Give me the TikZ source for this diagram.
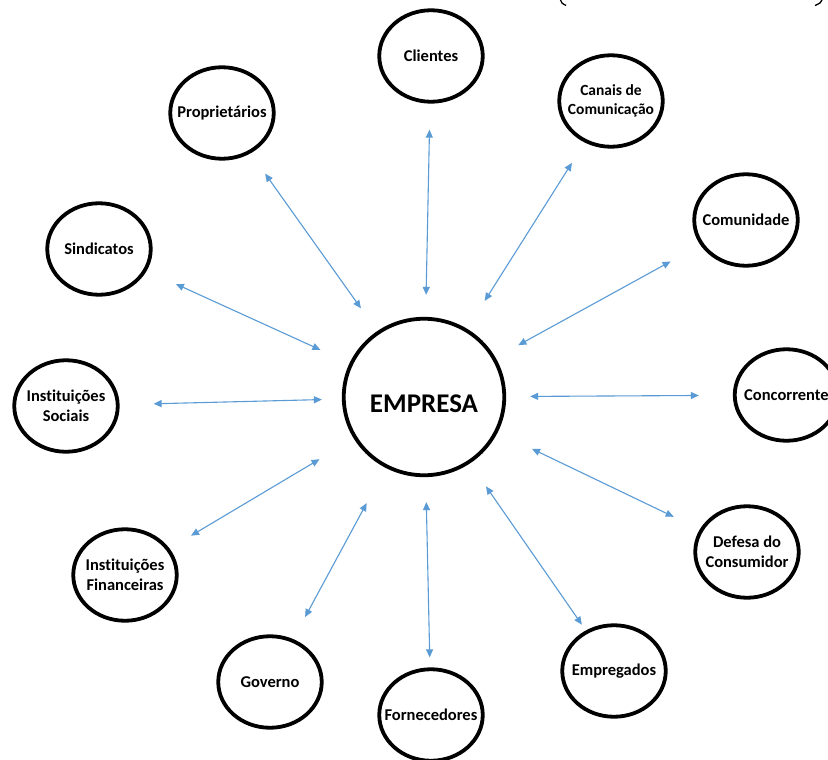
\documentclass[tikz,border=0pt]{standalone}
\usepackage{fontspec}
\usetikzlibrary{shapes.geometric, arrows.meta}
\newfontfamily\partyfont{Carlito}[Ligatures=NoCommon]
\definecolor{linkblue}{HTML}{5B9BD5}
\tikzset{party/.style={ellipse, draw=black, line width=3.8pt, minimum width=103.5pt, minimum height=91.5pt, inner xsep=-12pt, inner ysep=-12pt, align=center, font=\partyfont\bfseries\fontsize{16.5}{20}\selectfont},
link/.style={draw=linkblue, line width=1.1pt, {Triangle[length=8pt,width=7pt]}-{Triangle[length=8pt,width=7pt]}},}

\begin{document}
\begin{tikzpicture}[x=1pt, y=1pt]
\fill[white] (0,0) rectangle (828,-760);
\clip (0,0) rectangle (828,-760);
% the firm in the middle
\node [party, minimum width=160.5pt, minimum height=156.5pt, text height=31pt, font=\partyfont\bfseries\fontsize{27}{32}\selectfont] (empresa) at (424,-397) {EMPRESA};
% stakeholders around it
\node [party] (clientes) at (431,-56) {Clientes};
\node [party, font=\partyfont\bfseries\fontsize{15.5}{18.5}\selectfont] (canais) at (611,-101) {Canais de\\Comunica\c{c}\~ao};
\node [party] (proprietarios) at (222,-113) {Propriet\'arios};
\node [party] (comunidade) at (746,-220) {Comunidade};
\node [party] (sindicatos) at (99,-249) {Sindicatos};
\node [party] (sociais) at (66,-406) {Institui\c{c}\~oes\\Sociais};
\node [party] (concorrente) at (786.5,-395) {Concorrente};
\node [party] (defesa) at (747,-552) {Defesa do\\Consumidor};
\node [party] (financeiras) at (125,-575) {Institui\c{c}\~oes\\Financeiras};
\node [party] (empregados) at (614,-671) {Empregados};
\node [party] (governo) at (270,-682) {Governo};
\node [party] (fornecedores) at (431,-715) {Fornecedores};
% two-way relations
\draw [link, shorten <=22pt, shorten >=26pt] (empresa) -- (clientes);
\draw [link, shorten <=33pt, shorten >=24pt] (empresa) -- (canais);
\draw [link, shorten <=28pt, shorten >=25pt] (empresa) -- (proprietarios);
\draw [link, shorten <=26pt, shorten >=34pt] (empresa) -- (comunidade);
\draw [link, shorten <=32pt, shorten >=32pt] (empresa) -- (sindicatos);
\draw [link, shorten <=20pt, shorten >=34pt] (empresa) -- (sociais);
\draw [link, shorten <=24pt, shorten >=34pt] (empresa) -- (concorrente);
\draw [link, shorten <=38pt, shorten >=29pt] (empresa) -- (defesa);
\draw [link, shorten <=40pt, shorten >=25pt] (empresa) -- (financeiras);
\draw [link, shorten <=28pt, shorten >=7pt] (empresa) -- (empregados);
\draw [link, shorten <=40pt, shorten >=25pt] (empresa) -- (governo);
\draw [link, shorten <=25pt, shorten >=10pt] (empresa) -- (fornecedores);
% ends of the brackets cut off at the top
\draw [line width=1.3pt] (560.5,0) .. controls (561.5,-3) .. (566,-5.5);
\draw [line width=1.3pt] (822,0) .. controls (820.5,-3) .. (815,-5.5);
\end{tikzpicture}
\end{document}
